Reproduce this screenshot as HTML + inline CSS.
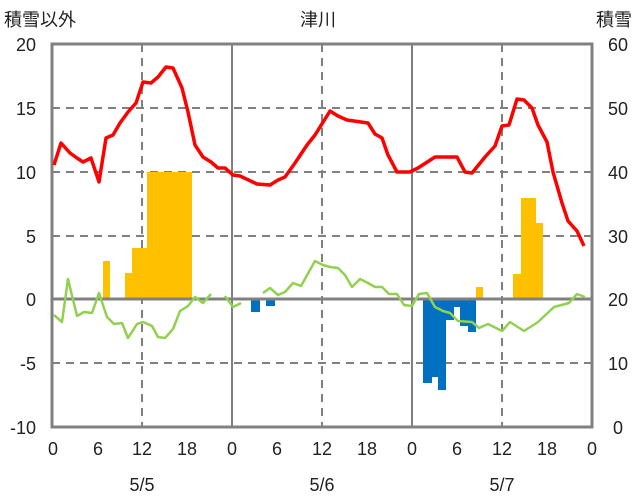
<!DOCTYPE html>
<html><head><meta charset="utf-8"><style>body{margin:0;background:#fff}svg{display:block}text{font-family:"Liberation Sans","Noto Sans CJK JP",sans-serif;font-size:18px;fill:#222}</style></head><body>
<svg width="636" height="501" viewBox="0 0 636 501">
<g stroke="#808080" stroke-width="2" stroke-dasharray="8,6" fill="none">
<line x1="52" y1="108" x2="592" y2="108"/><line x1="52" y1="172" x2="592" y2="172"/><line x1="52" y1="236" x2="592" y2="236"/><line x1="52" y1="363" x2="592" y2="363"/>
<line x1="142" y1="44" x2="142" y2="427"/><line x1="322" y1="44" x2="322" y2="427"/><line x1="502" y1="44" x2="502" y2="427"/>
</g>
<g stroke="#808080" stroke-width="2"><line x1="232" y1="44" x2="232" y2="427"/><line x1="412" y1="44" x2="412" y2="427"/></g>
<g fill="#FFC000">
<rect x="103" y="261" width="7" height="38"/><rect x="125" y="273" width="7" height="26"/><rect x="132" y="248" width="15" height="51"/><rect x="147" y="172" width="45" height="127"/>
<rect x="476" y="287" width="7" height="12"/><rect x="513" y="274" width="8" height="25"/><rect x="521" y="198" width="15" height="101"/><rect x="536" y="223" width="7" height="76"/>
</g>
<g fill="#0070C0">
<rect x="251" y="299" width="9" height="13"/><rect x="266" y="299" width="9" height="7"/>
<rect x="423" y="299" width="9" height="84"/><rect x="432" y="299" width="6" height="78"/><rect x="438" y="299" width="8" height="91"/><rect x="446" y="299" width="8" height="21"/><rect x="454" y="299" width="6" height="8"/><rect x="460" y="299" width="8" height="27"/><rect x="468" y="299" width="8" height="33"/>
</g>
<rect x="52" y="44" width="540" height="383" fill="none" stroke="#808080" stroke-width="3"/>
<line x1="52" y1="299" x2="592" y2="299" stroke="#808080" stroke-width="3"/>
<g fill="none" stroke="#92D050" stroke-width="2.5" stroke-linejoin="round">
<polyline points="54,315 62,322 68,279 77,316 84,312 92,313 99,293 107,317 114,324 122,323 128,338 137,324 143,322 152,326 158,337 165,338 173,329 180,311 188,306 195,297 203,303 211,294"/>
<polyline points="225,296 233,307 241,303"/>
<polyline points="263,293 270,288 278,295 285,292 293,283 301,286 315,261 323,265 330,267 338,268 345,275 352,287 360,279 368,283 375,287 382,287 389,294 397,294 404,305 412,306 419,294 427,293 435,307 443,311 450,313 458,321 472,322 479,328 488,324 502,331 510,322 524,331 538,322 554,307 569,303 577,294 585,297"/>
</g>
<polyline fill="none" stroke="#FF0000" stroke-width="3.5" stroke-linejoin="round" points="54,165 61,143 70,153 77,158 83,162 91,158 99,182 106,138 113,135 120,123 128,112 136,103 143,82 151,83 158,77 166,67 173,68 182,88 188,112 195,145 203,157 211,162 218,168 225,168 233,175 240,176 257,184 270,185 278,180 285,177 295,163 307,145 315,135 330,111 338,116 347,120 368,123 375,134 382,138 388,155 397,172 410,172 418,168 435,157 457,157 465,172 472,173 485,157 495,146 502,126 509,125 517,99 524,100 532,108 538,125 547,142 553,172 562,203 568,221 577,231 584,246"/>
<g text-anchor="end">
<text x="36" y="51">20</text><text x="36" y="115">15</text><text x="36" y="179">10</text><text x="36" y="243">5</text><text x="36" y="306">0</text><text x="36" y="370">-5</text><text x="36" y="434">-10</text>
</g>
<g text-anchor="middle">
<text x="618" y="51">60</text><text x="618" y="115">50</text><text x="618" y="179">40</text><text x="618" y="243">30</text><text x="618" y="306">20</text><text x="618" y="370">10</text><text x="618" y="434">0</text>
<text x="53" y="455">0</text><text x="98" y="455">6</text><text x="142" y="455">12</text><text x="187" y="455">18</text><text x="232" y="455">0</text><text x="277" y="455">6</text><text x="322" y="455">12</text><text x="367" y="455">18</text><text x="412" y="455">0</text><text x="457" y="455">6</text><text x="502" y="455">12</text><text x="547" y="455">18</text><text x="592" y="455">0</text>
<text x="142" y="491">5/5</text><text x="322" y="491">5/6</text><text x="502" y="491">5/7</text>
<text x="318" y="26">津川</text>
</g>
<text x="4" y="26">積雪以外</text>
<text x="632" y="26" text-anchor="end">積雪</text>
</svg>
</body></html>
